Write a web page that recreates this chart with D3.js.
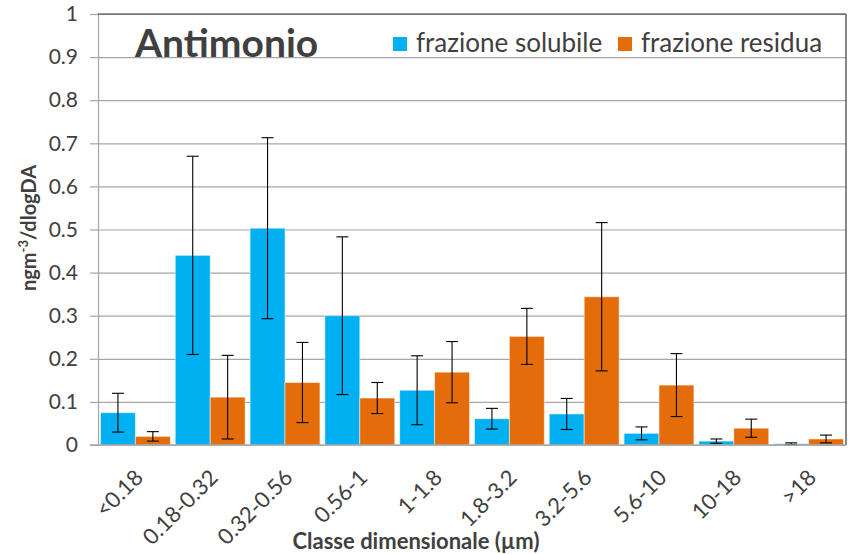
<!DOCTYPE html>
<html>
<head>
<meta charset="utf-8">
<script src="https://cdn.jsdelivr.net/npm/d3@7"></script>
<style>
    body { margin: 0; background: #fff; }
    text { font-family: Lato, "Open Sans", sans-serif; fill: #404040; }
</style>
</head>
<body>
<svg id="chart"></svg>
<script>
// size classes (µm)
const categories = ['<0.18', '0.18-0.32', '0.32-0.56', '0.56-1', '1-1.8', '1.8-3.2', '3.2-5.6', '5.6-10', '10-18', '>18']
const seriesNames = ['frazione solubile', 'frazione residua']
const soluble = [0.075, 0.44, 0.503, 0.30, 0.127, 0.061, 0.072, 0.027, 0.009, 0.003]
const solubleErr = [0.045, 0.23, 0.21, 0.183, 0.08, 0.024, 0.036, 0.015, 0.005, 0.002]
const residual = [0.02, 0.111, 0.145, 0.109, 0.169, 0.252, 0.344, 0.139, 0.039, 0.014]
const residualErr = [0.011, 0.097, 0.093, 0.036, 0.071, 0.065, 0.172, 0.073, 0.021, 0.009]
const yTicks = [0, 0.1, 0.2, 0.3, 0.4, 0.5, 0.6, 0.7, 0.8, 0.9, 1]

const colors = ['#00b0f0', '#e46c0a']

const config = {
    width: 851,
    height: 554,
    margin: {top: 14, right: 5, bottom: 109, left: 98}
}

const innerW = config.width - config.margin.left - config.margin.right
const innerH = config.height - config.margin.top - config.margin.bottom

const svg = d3.select('#chart')
    .attr('width', config.width)
    .attr('height', config.height)

const g = svg.append('g')
    .attr('transform', `translate(${config.margin.left}, ${config.margin.top})`)

const xScale = d3.scaleBand()
    .domain(categories)
    .range([0, innerW])
    .paddingInner(0.066)
    .paddingOuter(0.033)

const xSub = d3.scaleBand()
    .domain(seriesNames)
    .range([0, xScale.bandwidth()])

const yScale = d3.scaleLinear()
    .domain([0, 1])
    .range([innerH, 0])

// gridlines
g.append('g')
    .attr('class', 'grid')
    .call(d3.axisLeft(yScale).tickValues(yTicks).tickSize(-innerW).tickFormat(''))
    .call(a => a.select('.domain').remove())
    .selectAll('line')
    .attr('stroke', '#a6a6a6')
    .attr('stroke-width', 1.2)

// y axis with ticks and labels
const yAxisG = g.append('g')
    .call(d3.axisLeft(yScale).tickValues(yTicks).tickSize(8).tickPadding(12).tickFormat(d3.format('')))
yAxisG.select('.domain').attr('stroke', '#a6a6a6').attr('stroke-width', 1.2)
yAxisG.selectAll('line').attr('stroke', '#a6a6a6').attr('stroke-width', 1.2)
yAxisG.selectAll('text')
    .style('font-size', '21px')
    .style('font-family', 'Lato, sans-serif')
    .attr('fill', '#404040')

// plot frame top/right
g.append('line')
    .attr('x1', 0).attr('x2', innerW)
    .attr('y1', yScale(1)).attr('y2', yScale(1))
    .attr('stroke', '#3a3a3a').attr('stroke-width', 1.2)
g.append('line')
    .attr('x1', innerW).attr('x2', innerW)
    .attr('y1', yScale(1)).attr('y2', yScale(0))
    .attr('stroke', '#3a3a3a').attr('stroke-width', 1.2)

// bars
const rows = categories.map((c, i) => ({
    cat: c,
    values: [
        {key: seriesNames[0], v: soluble[i], e: solubleErr[i], color: colors[0]},
        {key: seriesNames[1], v: residual[i], e: residualErr[i], color: colors[1]}
    ]
}))

const groups = g.selectAll('.group')
    .data(rows)
    .join('g')
    .attr('class', 'group')
    .attr('transform', d => `translate(${xScale(d.cat)}, 0)`)

groups.selectAll('rect')
    .data(d => d.values)
    .join('rect')
    .attr('x', d => xSub(d.key))
    .attr('y', d => yScale(d.v))
    .attr('width', xSub.bandwidth())
    .attr('height', d => yScale(0) - yScale(d.v))
    .attr('fill', d => d.color)
    .attr('stroke', '#ffffff')
    .attr('stroke-opacity', 0.5)
    .attr('stroke-width', 1)

// x axis baseline
const xAxisG = g.append('g')
    .attr('transform', `translate(0, ${innerH})`)
    .call(d3.axisBottom(xScale).tickSize(0).tickPadding(0))
xAxisG.select('.domain')
    .attr('d', `M-8,0H${innerW}`)
    .attr('stroke', '#a6a6a6')
    .attr('stroke-width', 1.4)
xAxisG.selectAll('text')
    .style('font-size', '22px')
    .style('font-family', 'Lato, sans-serif')
    .attr('fill', '#404040')
    .attr('text-anchor', 'end')
    .attr('dy', 0)
    .attr('transform', 'translate(9, 34) rotate(-45)')

// error bars
const cap = 6
const errs = groups.selectAll('.err')
    .data(d => d.values)
    .join('g')
    .attr('class', 'err')
    .attr('transform', d => `translate(${xSub(d.key) + xSub.bandwidth() / 2}, 0)`)
    .attr('stroke', '#000')
    .attr('stroke-width', 1.1)
errs.append('line')
    .attr('y1', d => yScale(d.v + d.e))
    .attr('y2', d => yScale(Math.max(0, d.v - d.e)))
errs.append('line')
    .attr('x1', -cap).attr('x2', cap)
    .attr('y1', d => yScale(d.v + d.e)).attr('y2', d => yScale(d.v + d.e))
errs.append('line')
    .attr('x1', -cap).attr('x2', cap)
    .attr('y1', d => yScale(Math.max(0, d.v - d.e))).attr('y2', d => yScale(Math.max(0, d.v - d.e)))

// title inside plot
svg.append('text')
    .text('Antimonio')
    .attr('x', 135)
    .attr('y', 57)
    .style('font-size', '39px')
    .style('font-weight', 'bold')
    .attr('fill', '#000')

// legend
const legend = svg.append('g')
const legendX = [393, 618]
seriesNames.forEach((name, i) => {
    legend.append('rect')
        .attr('x', legendX[i]).attr('y', 37)
        .attr('width', 14).attr('height', 14)
        .attr('fill', colors[i])
    legend.append('text')
        .text(name)
        .attr('x', legendX[i] + 23)
        .attr('y', 52)
        .style('font-size', '26px')
        .attr('fill', '#000')
})

// axis titles
svg.append('text')
    .text('Classe dimensionale (µm)')
    .attr('x', 416)
    .attr('y', 549)
    .attr('text-anchor', 'middle')
    .style('font-size', '22px')
    .style('font-weight', 'bold')
    .attr('fill', '#000')

const yTitle = svg.append('text')
    .attr('transform', 'translate(36, 228) rotate(-90)')
    .attr('text-anchor', 'middle')
    .style('font-size', '20px')
    .style('font-weight', 'bold')
    .attr('fill', '#000')
yTitle.append('tspan').text('ngm')
yTitle.append('tspan').text('-3').attr('baseline-shift', 'super').style('font-size', '13px')
yTitle.append('tspan').text('/dlogDA')
</script>
</body>
</html>
